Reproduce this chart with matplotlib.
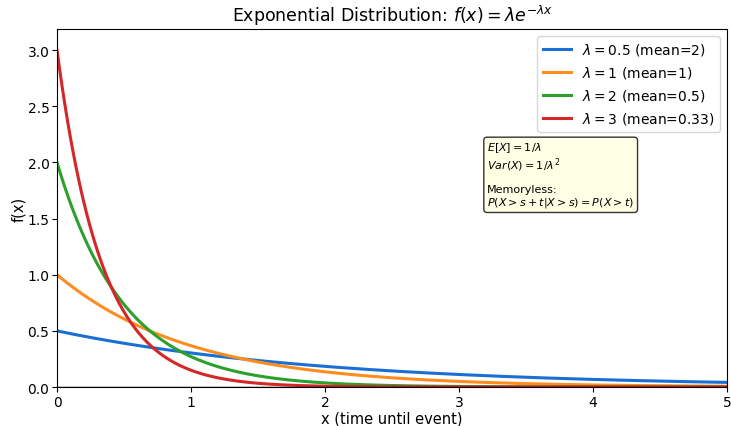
import numpy as np
import matplotlib
matplotlib.use("Agg")
import matplotlib.pyplot as plt

lambdas = [0.5, 1, 2, 3]
labels = [r"$\lambda=0.5$ (mean=2)", r"$\lambda=1$ (mean=1)",
          r"$\lambda=2$ (mean=0.5)", r"$\lambda=3$ (mean=0.33)"]
colors = ["#1a6fd4", "#ff8c1f", "#2ca02c", "#d62728"]

x = np.linspace(0, 5, 500)

fig = plt.figure(figsize=(7.31, 4.27), dpi=100)
ax = fig.add_axes([0.078, 0.0913, 0.9165, 0.8387])
for lam, lab, c in zip(lambdas, labels, colors):
    ax.plot(x, lam * np.exp(-lam * x), color=c, lw=2.2, label=lab)
ax.axhline(0, color="black", lw=1.0)
ax.set_xlim(0, 5)
ax.set_ylim(0, 3.19)
ax.tick_params(labelsize=10, length=3.5, pad=2)
ax.set_xlabel("x (time until event)", fontsize=10.5, labelpad=1)
ax.set_ylabel("f(x)", fontsize=10.5, labelpad=1)
ax.set_title(r"Exponential Distribution: $f(x) = \lambda e^{-\lambda x}$", fontsize=12.5)
ax.legend(loc="upper right", fontsize=10)
ax.text(0.642, 0.69,
        "$E[X] = 1/\\lambda$\n$Var(X) = 1/\\lambda^2$\n\nMemoryless:\n$P(X > s+t | X > s) = P(X > t)$",
        transform=ax.transAxes, fontsize=8, va="top", ha="left", linespacing=1.1,
        bbox=dict(boxstyle="round,pad=0.3", facecolor="lightyellow", edgecolor="black", alpha=0.8))
fig.savefig("out.png", dpi=100)
